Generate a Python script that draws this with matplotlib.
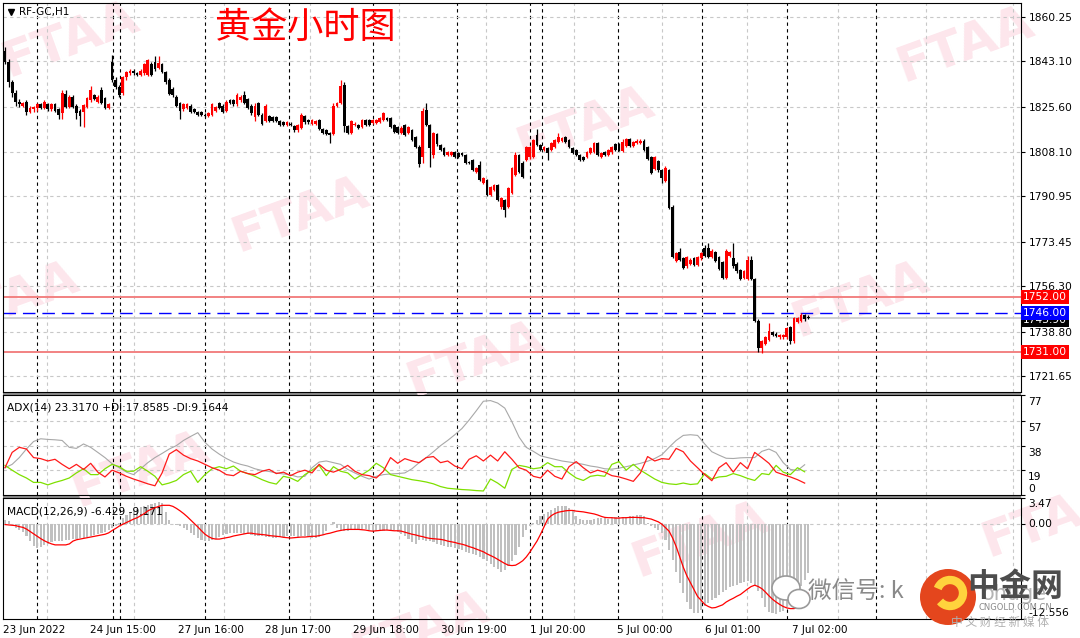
import numpy as np
import matplotlib.pyplot as plt
from matplotlib.patches import Rectangle, Circle, Ellipse, Arc
import matplotlib.transforms as mtransforms

plt.rcParams['font.family'] = ['DejaVu Sans', 'Noto Sans CJK SC']

# --- price data (H1 bars, 23 Jun - 7 Jul 2022) ---
opens = [1847, 1843, 1835, 1831, 1827.5, 1826, 1827.5, 1823.5, 1824.5, 1825, 1826.5, 1825,
         1826.5, 1824.5, 1826.5, 1824.5, 1823, 1830.5, 1825.5, 1829.5, 1826, 1824, 1823.5, 1825.5,
         1828, 1830, 1827.5, 1832, 1829, 1825, 1843, 1836, 1833, 1831, 1837, 1838.5,
         1839.5, 1838.5, 1838, 1838.5, 1838, 1842, 1843, 1840.5, 1842, 1839, 1836, 1832.5,
         1829.5, 1827, 1824.5, 1825, 1826, 1824.5, 1823.5, 1823.5, 1822.5, 1822, 1822.5, 1824,
         1827, 1826, 1824, 1828, 1828, 1826.5, 1828, 1830, 1828.5, 1826, 1821.5, 1827,
         1822.5, 1820, 1822, 1821.5, 1821.5, 1820, 1819.5, 1818.5, 1819, 1818, 1816.5, 1817.5,
         1822, 1820.5, 1819, 1819, 1820.5, 1817, 1816.5, 1815.5, 1815, 1826, 1827, 1834,
         1818, 1815.5, 1818.5, 1818.5, 1817.8, 1820.5, 1820.5, 1819.3, 1819.3, 1819.7, 1820.5, 1821.2,
         1821.2, 1818.5, 1817.8, 1815.4, 1818.5, 1815.4, 1816.6, 1813.9, 1810, 1806, 1824.3, 1818.5,
         1807, 1815, 1810.8, 1809.7, 1807, 1807, 1808.1, 1807.7, 1807.7, 1807, 1804.3, 1805,
         1800.4, 1803.1, 1796.1, 1797.3, 1791.5, 1793.4, 1795.4, 1786.9, 1789.6, 1786.9, 1792.3, 1799.2,
         1807, 1804, 1805, 1806, 1806.2, 1814.7, 1810.8, 1808.9, 1809.7, 1808.9, 1810, 1812,
         1812.5, 1813.9, 1812.7, 1809.7, 1808.9, 1807, 1806, 1806.2, 1807.7, 1808.1, 1811.6, 1806.2,
         1808.1, 1807, 1808, 1811, 1811, 1808.5, 1810.5, 1813, 1810.5, 1811.5, 1811.5, 1812.5,
         1810, 1806, 1801.5, 1804.5, 1801, 1797, 1801, 1787, 1766, 1769.5, 1767, 1764,
         1765, 1767, 1764.5, 1767, 1771, 1771, 1767.5, 1769.5, 1767.5, 1765.5, 1759.5, 1768,
         1767, 1765, 1762.5, 1759.5, 1759, 1766.5, 1759, 1743, 1732.5, 1734, 1735.5, 1738.5,
         1738, 1736.5, 1736.5, 1736.5, 1740.5, 1735, 1742.5, 1743, 1745, 1744]
highs = [1848.5, 1844, 1836, 1832, 1828.5, 1827.5, 1828, 1826, 1826, 1827, 1827, 1828,
         1827, 1827, 1827, 1825, 1832, 1832, 1830, 1830, 1826.5, 1824.5, 1826.5, 1829.5,
         1833.5, 1830.5, 1830, 1833, 1829.5, 1827, 1845.5, 1837, 1834, 1837.5, 1839.5, 1840,
         1840, 1839, 1840, 1842.5, 1844, 1843, 1845, 1845, 1842.5, 1839.5, 1836.5, 1833,
         1830, 1827.5, 1827, 1827, 1826.5, 1825, 1824, 1824, 1823, 1823.5, 1827, 1826,
         1827.5, 1826.5, 1828, 1828.5, 1828.5, 1831, 1830, 1831.5, 1829, 1826.5, 1827, 1827.5,
         1823, 1826.5, 1822.5, 1822, 1822, 1820.5, 1820, 1820, 1819.5, 1818.5, 1819, 1823,
         1822.5, 1821, 1821, 1820.5, 1821, 1817.5, 1817, 1816, 1827, 1827.5, 1836, 1835,
         1818.5, 1820.5, 1819.5, 1819, 1821, 1821, 1821, 1821, 1821, 1821.7, 1823.6, 1821.7,
         1821.7, 1819, 1818.3, 1818, 1819, 1818.3, 1817, 1814.3, 1810.8, 1825, 1827, 1819,
         1816, 1815.6, 1811.3, 1810.2, 1808.6, 1808.6, 1808.6, 1808.2, 1808.2, 1807.5, 1804.8, 1805.5,
         1802.4, 1804.5, 1798.6, 1797.8, 1795.1, 1795.9, 1795.9, 1790.9, 1790.1, 1794.7, 1802.4, 1808,
         1807.5, 1804.5, 1810.5, 1810.5, 1813.2, 1817, 1811.3, 1810.5, 1810.2, 1812.1, 1813.2, 1815.5,
         1814, 1814.4, 1813.2, 1810.2, 1809.4, 1807.5, 1806.5, 1808.6, 1810.2, 1812.1, 1812.1, 1808.2,
         1808.6, 1809.4, 1810.5, 1811.5, 1811.5, 1813, 1813.5, 1813.5, 1812.5, 1813, 1813, 1813,
         1810.5, 1806.5, 1806.5, 1805, 1801.5, 1802.5, 1801.5, 1787.5, 1769.5, 1771, 1767.5, 1768,
         1767, 1767.5, 1768, 1769.5, 1772, 1773, 1770.5, 1770, 1768, 1766, 1770.5, 1770,
         1773, 1765.5, 1763, 1762.5, 1768, 1768, 1759.5, 1743.5, 1735.5, 1737, 1742, 1739,
         1738.5, 1738, 1738, 1740.5, 1741, 1744.5, 1744.5, 1746, 1745.5, 1745]
lows = [1842, 1833, 1829.5, 1826, 1825.5, 1825.5, 1822.5, 1823, 1823.5, 1824, 1824.5, 1824.5,
        1824, 1824, 1823.5, 1821, 1821, 1825, 1825, 1825, 1821, 1818, 1817.8, 1825,
        1827.5, 1828, 1827, 1826.5, 1824.5, 1824.5, 1835, 1832.5, 1829.5, 1830, 1836, 1838,
        1838, 1837.5, 1837.5, 1838, 1837.5, 1837.5, 1839.5, 1840, 1838.5, 1834.5, 1830, 1829.5,
        1825.5, 1821, 1824, 1824.5, 1823, 1823, 1822, 1822, 1821.5, 1821.5, 1822, 1823.5,
        1824.5, 1823, 1823.5, 1826.5, 1826, 1826, 1827.5, 1826.5, 1824.5, 1822.5, 1820, 1822,
        1818.5, 1819.5, 1819.5, 1819.5, 1819.5, 1818, 1818, 1818, 1818, 1816, 1816, 1817,
        1819, 1819, 1818.5, 1818.5, 1816.5, 1815, 1814.5, 1811.5, 1814.5, 1825.5, 1826.5, 1816,
        1815, 1815, 1818, 1817, 1817.3, 1818, 1818, 1819, 1819, 1819.3, 1820, 1820,
        1817.3, 1815.4, 1815, 1815, 1814.2, 1815, 1812.2, 1809.5, 1802.3, 1804, 1818, 1802.3,
        1805.8, 1810.5, 1808.5, 1806.5, 1806.5, 1806.5, 1805.7, 1805.7, 1806.5, 1803.4, 1803.4, 1800.7,
        1800, 1796.8, 1795.6, 1791, 1791, 1792.9, 1789.1, 1786, 1783, 1786.4, 1791.8, 1798.7,
        1800, 1798, 1804.5, 1805.5, 1805.7, 1810.3, 1808.4, 1808.4, 1805, 1808.4, 1809.5, 1811.5,
        1812, 1811.5, 1809.5, 1807.2, 1806.5, 1804.5, 1804.5, 1805.7, 1807.2, 1807.6, 1806.5, 1805.7,
        1806.5, 1806.5, 1807.5, 1808.5, 1808.5, 1808, 1810, 1810, 1810, 1811, 1811, 1808.5,
        1805, 1799.5, 1801, 1800.5, 1796, 1796.5, 1786, 1767, 1765.5, 1766, 1763, 1763.5,
        1764.5, 1764, 1764, 1766.5, 1767.5, 1767, 1767, 1765.5, 1762.5, 1759, 1759, 1767.5,
        1763.5, 1761.5, 1758.5, 1759, 1758.5, 1758.5, 1742.5, 1731, 1730.5, 1733.5, 1735, 1737,
        1736.5, 1736, 1736, 1736, 1734, 1734.5, 1742, 1742.5, 1743, 1743.5]
closes = [1843, 1835, 1831, 1827.5, 1826.5, 1827, 1823.5, 1825, 1825.5, 1826.5, 1825, 1827.5,
          1824.5, 1826.5, 1824, 1822.5, 1831, 1825.5, 1829.5, 1825.5, 1823, 1822, 1826.3, 1829,
          1832, 1828.5, 1829.5, 1827, 1825, 1826.5, 1836, 1833, 1830, 1837, 1839, 1839.5,
          1838.5, 1838, 1839.5, 1842, 1843.5, 1838, 1840, 1842.5, 1839, 1835, 1830.5, 1830,
          1826, 1824, 1826.5, 1826.5, 1823.5, 1823.5, 1822.5, 1822.5, 1822, 1823, 1826.5, 1825.5,
          1825, 1823.5, 1827.5, 1827, 1826.5, 1830, 1829.5, 1827, 1825, 1823, 1826, 1822.5,
          1819, 1826, 1820, 1820, 1820, 1818.5, 1818.5, 1819.5, 1818.5, 1816.5, 1818.5, 1822.5,
          1819.5, 1819.5, 1820.5, 1820, 1817, 1815.5, 1815, 1814.5, 1826, 1827, 1833.5, 1818,
          1815.5, 1820, 1819, 1817.4, 1820.5, 1818.5, 1818.5, 1820.5, 1820.5, 1821.2, 1823.2, 1820.5,
          1817.8, 1815.8, 1815.4, 1817.4, 1814.7, 1817.8, 1812.7, 1810, 1803.5, 1824, 1818.5, 1809.7,
          1815.4, 1811, 1808.9, 1807, 1808.1, 1808.1, 1806.2, 1806.2, 1807, 1803.9, 1803.9, 1801.2,
          1801.9, 1797.3, 1798.1, 1791.5, 1794.6, 1795.4, 1789.6, 1790.4, 1785.7, 1794.2, 1801.9, 1807,
          1800.4, 1798.5, 1810, 1810, 1812.7, 1810.8, 1808.9, 1810, 1807.7, 1811.6, 1812.7, 1813.9,
          1813.5, 1812, 1810, 1807.7, 1807, 1805, 1805, 1808.1, 1809.7, 1811.6, 1807, 1807.7,
          1807, 1808.9, 1810, 1809, 1809, 1812, 1813, 1810.5, 1812, 1812.5, 1812.5, 1809,
          1805.5, 1800, 1806, 1801, 1798, 1802, 1786.5, 1767.5, 1769, 1766.5, 1763.5, 1767.5,
          1766.5, 1764.5, 1767.5, 1769, 1768, 1767.5, 1770, 1766, 1763, 1759.5, 1770, 1769.5,
          1764, 1762, 1759, 1762, 1766.5, 1759, 1743, 1732.5, 1735, 1736.5, 1739, 1737.5,
          1737, 1737.5, 1737.5, 1740, 1735, 1744, 1744, 1745, 1743.5, 1743.9]

# --- ADX(14), one value every 2 bars ---
adx_step = 2
adx_line = [21.0, 23.6, 28.8, 35.4, 41.2, 43.3, 42.8, 42.5, 42.0, 36.7, 35.9, 39.3, 36.7, 32.8, 28.8,
            24.1, 21.0, 17.6, 15.7, 20.2, 24.9, 28.8, 32.0, 35.4, 38.0, 42.0, 45.1, 48.0, 40.6, 35.4,
            31.5, 28.1, 25.4, 23.6, 22.3, 20.2, 18.9, 18.1, 17.0, 16.2, 15.5, 13.9, 14.4, 21.0, 25.4,
            26.2, 24.9, 23.6, 19.7, 17.0, 14.4, 12.3, 14.4, 15.7, 16.2, 16.5, 17.0, 20.2, 24.9, 28.8,
            33.3, 38.0, 42.0, 46.4, 51.2, 57.7, 64.8, 72.2, 72.7, 70.8, 66.9, 56.4, 44.6, 36.7, 33.6,
            30.2, 28.8, 27.5, 26.2, 25.4, 24.6, 23.6, 22.3, 21.5, 20.2, 19.9, 20.7, 21.8, 23.1, 24.4,
            26.0, 28.1, 31.0, 36.7, 42.0, 45.9, 46.4, 45.9, 39.3, 33.3, 30.7, 28.3, 28.1, 28.6, 28.8,
            28.8, 33.6, 35.4, 32.8, 24.9, 19.7, 18.9, 23.3]
di_minus = [21.0, 32.8, 36.7, 35.4, 28.8, 28.0, 26.2, 27.5, 23.6, 20.2, 23.6, 19.7, 24.4, 17.6, 13.9,
            19.1, 17.0, 14.4, 12.3, 10.5, 8.6, 7.1, 17.0, 31.5, 34.9, 30.7, 28.0, 26.2, 23.6, 21.0,
            19.1, 15.7, 14.9, 18.3, 16.5, 15.7, 18.3, 19.7, 16.5, 17.6, 14.9, 17.6, 19.1, 17.0, 23.6,
            19.1, 17.6, 19.7, 22.8, 18.3, 15.7, 14.9, 13.1, 18.3, 28.8, 24.4, 28.0, 26.2, 24.9, 28.8,
            29.6, 24.9, 26.2, 22.3, 20.2, 27.5, 30.2, 26.2, 30.7, 26.2, 33.3, 27.5, 21.0, 19.1, 14.4,
            13.1, 19.1, 14.4, 12.3, 21.8, 25.7, 21.0, 17.0, 19.1, 17.6, 14.9, 13.9, 12.3, 10.5, 17.0,
            29.6, 26.2, 28.0, 27.5, 35.9, 33.3, 26.2, 21.0, 15.7, 11.0, 21.0, 24.9, 17.6, 24.9, 20.2,
            32.8, 28.8, 24.4, 17.6, 15.7, 13.9, 11.8, 9.16]
di_plus = [22.8, 19.1, 15.7, 13.1, 9.7, 9.7, 7.8, 9.7, 11.2, 13.1, 17.0, 20.2, 15.7, 15.7, 20.2,
           23.6, 21.8, 18.3, 18.3, 21.8, 18.3, 14.4, 7.8, 9.2, 11.2, 15.7, 18.3, 9.7, 15.7, 20.2,
           21.8, 20.2, 22.3, 18.3, 16.5, 14.4, 11.8, 9.7, 8.4, 14.4, 13.1, 10.5, 15.7, 19.1, 22.8,
           14.9, 21.8, 18.3, 17.0, 12.3, 15.7, 19.1, 24.4, 21.0, 15.7, 14.4, 13.1, 11.8, 11.0, 10.0,
           8.6, 6.5, 5.2, 4.7, 4.2, 3.9, 3.4, 3.1, 12.3, 9.2, 5.2, 19.7, 22.8, 21.8, 20.2,
           21.0, 24.9, 21.8, 21.8, 17.0, 13.1, 11.2, 14.4, 15.2, 14.4, 23.6, 25.7, 19.1, 23.6, 19.1,
           15.7, 12.3, 9.7, 8.6, 8.1, 9.2, 8.1, 8.6, 16.5, 12.3, 13.9, 14.4, 16.5, 14.9, 12.8,
           11.2, 16.5, 15.7, 22.8, 17.6, 15.7, 21.0, 17.86]

# --- MACD(12,26,9): main (histogram) and signal, one value per bar ---
macd_main = [0.58, 0.36, 0.08, -0.46, -0.78, -1.06, -1.6, -2.29, -2.88, -3.15, -3.0, -2.8, -2.56, -2.42,
             -2.29, -2.24, -2.2, -2.1, -2.06, -2.0, -1.92, -1.88, -1.83, -1.7, -1.6, -1.47, -1.33, -1.15,
             -1.0, -0.83, -0.55, -0.24, 0.22, 0.77, 1.22, 1.5, 1.77, 2.0, 2.23, 2.45, 2.59, 2.73,
             2.86, 2.96, 2.86, 1.68, 0.49, 0.0, -0.14, -0.28, -0.51, -0.74, -1.15, -1.47, -1.83, -2.1,
             -2.24, -2.24, -2.1, -1.92, -1.7, -1.47, -1.28, -1.19, -1.15, -1.15, -1.15, -1.24, -1.33, -1.42,
             -1.51, -1.56, -1.6, -1.65, -1.74, -1.79, -1.83, -1.74, -1.65, -1.6, -1.6, -1.6, -1.65, -1.6,
             -1.6, -1.7, -1.79, -1.83, -1.7, -1.47, -0.92, 0.0, 0.31, -0.46, -0.78, -0.92, -0.87, -0.78,
             -0.69, -0.69, -0.69, -0.69, -0.83, -0.92, -0.92, -0.92, -0.92, -0.83, -0.74, -0.74, -0.97, -1.24,
             -1.6, -1.92, -2.42, -2.61, -2.15, -2.1, -2.2, -2.29, -2.38, -2.56, -2.7, -2.84, -2.97, -3.06,
             -3.2, -3.29, -3.43, -3.66, -3.88, -3.97, -4.11, -4.34, -4.57, -4.93, -5.3, -5.62, -5.98, -6.3,
             -6.07, -5.52, -4.93, -4.02, -2.97, -1.7, -0.83, -0.24, 0.22, 0.54, 1.13, 1.36, 1.63, 1.86,
             2.09, 2.36, 2.45, 2.36, 2.13, 1.82, 1.13, 0.63, 0.49, 0.49, 0.58, 0.68, 0.77, 0.86,
             0.81, 0.68, 0.77, 0.9, 0.9, 0.9, 1.0, 1.04, 1.13, 1.22, 1.18, 1.09, 0.13, -0.24,
             -0.51, -0.74, -1.15, -2.06, -3.43, -4.8, -6.39, -7.76, -9.13, -10.27, -11.27, -11.77, -11.73, -11.32,
             -10.82, -10.4, -10.08, -9.72, -9.4, -9.04, -8.67, -8.35, -8.22, -7.99, -7.76, -7.62, -7.53, -7.76,
             -8.08, -8.9, -9.81, -10.95, -11.64, -11.82, -11.86, -11.68, -11.5, -10.95, -10.27, -9.63, -8.9, -8.22,
             -7.44, -6.429]
macd_signal = [-0.05, -0.1, -0.14, -0.19, -0.33, -0.42, -0.65, -0.97, -1.28, -1.6, -1.92, -2.2, -2.42, -2.61,
               -2.74, -2.74, -2.74, -2.74, -2.61, -2.24, -2.06, -1.97, -1.88, -1.79, -1.7, -1.6, -1.51, -1.42,
               -1.33, -1.15, -0.83, -0.55, -0.24, 0.0, 0.22, 0.45, 0.68, 0.86, 1.13, 1.41, 1.77, 2.0,
               2.18, 2.36, 2.5, 2.5, 2.5, 2.36, 2.09, 1.77, 1.41, 1.0, 0.54, 0.08, -0.37, -0.87,
               -1.33, -1.65, -1.88, -1.97, -1.97, -1.88, -1.79, -1.7, -1.56, -1.47, -1.37, -1.28, -1.19, -1.19,
               -1.28, -1.33, -1.37, -1.42, -1.51, -1.56, -1.6, -1.65, -1.74, -1.79, -1.83, -1.79, -1.74, -1.7,
               -1.7, -1.65, -1.6, -1.6, -1.51, -1.42, -1.28, -1.19, -1.06, -0.92, -0.83, -0.74, -0.69, -0.69,
               -0.69, -0.69, -0.74, -0.78, -0.87, -0.92, -0.87, -0.83, -0.78, -0.78, -0.83, -0.87, -0.87, -0.92,
               -1.06, -1.19, -1.33, -1.42, -1.56, -1.65, -1.79, -1.88, -1.92, -1.97, -2.01, -2.1, -2.24, -2.33,
               -2.42, -2.56, -2.65, -2.79, -2.97, -3.11, -3.29, -3.47, -3.66, -3.93, -4.16, -4.38, -4.66, -4.93,
               -5.21, -5.43, -5.48, -5.43, -5.16, -4.84, -4.34, -3.7, -2.97, -2.24, -1.33, -0.33, 0.68, 1.13,
               1.41, 1.59, 1.68, 1.77, 1.82, 1.82, 1.73, 1.68, 1.63, 1.54, 1.45, 1.36, 1.22, 1.04,
               0.9, 0.86, 0.86, 0.81, 0.81, 0.86, 0.86, 0.9, 0.9, 0.9, 0.86, 0.86, 0.77, 0.68,
               0.49, 0.31, 0.0, -0.46, -0.92, -1.83, -2.97, -4.34, -5.71, -6.85, -7.76, -8.67, -9.58, -10.08,
               -10.63, -10.9, -11.09, -11.04, -10.86, -10.68, -10.31, -10.04, -9.81, -9.54, -9.31, -8.95, -8.58, -8.26,
               -8.08, -8.26, -8.54, -8.99, -9.49, -9.95, -10.31, -10.63, -10.9, -11.09, -11.18, -11.18, -11.04, -10.72,
               -10.17, -9.171]

# --- axes furniture ---
price_ticks = [1860.25, 1843.10, 1825.60, 1808.10, 1790.95, 1773.45, 1756.30, 1738.80, 1721.65]
price_range = (1715.45, 1865.6)
adx_labels = [77, 57, 38, 19]
adx_grid = [57, 38, 19]
macd_range = (-12.556, 3.47)
time_labels = ['23 Jun 2022', '24 Jun 15:00', '27 Jun 16:00', '28 Jun 17:00', '29 Jun 18:00',
               '30 Jun 19:00', '1 Jul 20:00', '5 Jul 00:00', '6 Jul 01:00', '7 Jul 02:00']
time_label_pos = [-0.6, 23.8, 48.5, 72.8, 97.5, 122.1, 147.1, 171.4, 196.1, 220.4]
grid_pos = [11.8, 36.1, 61.3, 85.4, 110.4, 134.7, 159.4, 184.0, 207.8, 233.3, 258.0, 282.4]
day_sep_pos = [9.0, 30.3, 32.2, 56.0, 79.6, 103.1, 126.6, 147.1, 150.4, 171.7, 195.2, 219.0, 244.0]
level_lines = {'r1': 1752.0, 'pivot': 1746.0, 's1': 1731.0}
last_price = 1743.90
x_range = (-0.56, 284.6)

W, H = 1080, 638
fig = plt.figure(figsize=(W / 100, H / 100), dpi=100)
fig.patch.set_facecolor('white')

bg = fig.add_axes([0, 0, 1, 1], zorder=-5)
bg.set_xlim(0, W); bg.set_ylim(H, 0); bg.axis('off')

def panel(top, bottom):
    a = fig.add_axes([3 / W, 1 - bottom / H, 1018 / W, (bottom - top) / H])
    a.set_facecolor('none')
    a.set_xlim(*x_range)
    for s in a.spines.values():
        s.set_color('black'); s.set_linewidth(0.8)
    a.tick_params(axis='x', which='both', bottom=False, labelbottom=False)
    a.yaxis.tick_right()
    a.tick_params(axis='y', length=3, width=0.8, pad=3, labelsize=7.7, colors='black')
    return a

ax = panel(3, 392)
ax_adx = panel(395, 495)
ax_macd = panel(498, 619)

# panel separators
bg.add_patch(Rectangle((3, 392), 1018, 3, color='#8c8c8c', lw=0))
bg.add_patch(Rectangle((3, 495), 1018, 3, color='#8c8c8c', lw=0))

# watermarks (FTAA)
for cx, cy in [(70, 40), (300, 215), (585, 125), (965, 45), (860, 300), (475, 360),
               (10, 300), (140, 470), (700, 540), (1050, 520), (420, 630)]:
    bg.text(cx, cy, 'FTAA', fontsize=36, fontweight='bold', color='#fde6ec',
            rotation=20, ha='center', va='center', clip_on=True)

grid_kw = dict(color='#c8c8c8', lw=0.8, dashes=(3, 3), zorder=1)
sep_kw = dict(color='black', lw=0.8, dashes=(3, 3), zorder=1)

for a in (ax, ax_adx, ax_macd):
    for g in grid_pos:
        a.axvline(g, **grid_kw)
    for d in day_sep_pos:
        a.axvline(d, **sep_kw)

# --- main price panel ---
x = np.arange(len(closes))
o = np.array(opens); c = np.array(closes); hi = np.array(highs); lo = np.array(lows)
up = c >= o
col = np.where(up, '#ff0000', '#000000')
ax.set_ylim(*price_range)
ax.set_yticks(price_ticks)
ax.set_yticklabels([f'{v:.2f}' for v in price_ticks])
for v in price_ticks:
    ax.axhline(v, **grid_kw)
ax.vlines(x, lo, hi, colors=col, lw=0.9, zorder=3)
body = np.maximum(np.abs(c - o), 0.4)
ax.bar(x, body, bottom=np.minimum(o, c), width=0.78, color=col, lw=0, zorder=4)

ax.axhline(level_lines['r1'], color='#f28282', lw=1.4, zorder=2)
ax.axhline(level_lines['s1'], color='#f28282', lw=1.4, zorder=2)
ax.axhline(last_price, color='#c8c8c8', lw=1.2, zorder=2)
ax.axhline(level_lines['pivot'], color='#0000ff', lw=1.0, dashes=(9, 5), zorder=2)

ytr = mtransforms.blended_transform_factory(ax.transAxes, ax.transData)
def tag(val, fc, dy=0.0):
    ax.text(1.0 + 2 / 1018, val + dy, f'{val:.2f}', transform=ytr, fontsize=7.7, color='white',
            ha='left', va='center', zorder=6, clip_on=False,
            bbox=dict(boxstyle='square,pad=0.18', fc=fc, ec='none'))
tag(last_price, 'black', dy=-0.6)
tag(level_lines['r1'], '#ff0000')
tag(level_lines['pivot'], '#0000ff')
tag(level_lines['s1'], '#ff0000')

# --- ADX panel ---
xa = np.arange(0, len(closes), adx_step)[:len(adx_line)]
ax_adx.set_ylim(0, 77)
for v in adx_grid:
    ax_adx.axhline(v, **grid_kw)
ax_adx.plot(xa, adx_line, color='#a8a8a8', lw=0.8, zorder=3)
ax_adx.plot(xa, di_plus, color='#7ee000', lw=0.9, zorder=3)
ax_adx.plot(xa, di_minus, color='#ff1a1a', lw=0.9, zorder=3)
ax_adx.set_yticks(adx_labels + [0])
ax_adx.set_yticklabels([])
atr = mtransforms.blended_transform_factory(ax_adx.transAxes, ax_adx.transData)
for v in adx_labels:
    ax_adx.text(1.0 + 7 / 1018, v - 1.5, str(v), transform=atr, fontsize=7.7, va='top', ha='left', clip_on=False)
ax_adx.text(1.0 + 7 / 1018, 0.5, '0', transform=atr, fontsize=7.7, va='bottom', ha='left', clip_on=False)
ax_adx.text(4 / 1018, 0.93, 'ADX(14) 23.3170 +DI:17.8585 -DI:9.1644', transform=ax_adx.transAxes,
            fontsize=7.7, va='top', ha='left')

# --- MACD panel ---
ax_macd.set_ylim(*macd_range)
ax_macd.axhline(0, **grid_kw)
ax_macd.bar(x, macd_main, width=0.6, color='#c0c0c0', lw=0, zorder=3)
ax_macd.plot(x, macd_signal, color='#ff0000', lw=0.9, zorder=4)
ax_macd.set_yticks([3.47, 0.0, -12.556])
ax_macd.set_yticklabels([])
mtr = mtransforms.blended_transform_factory(ax_macd.transAxes, ax_macd.transData)
ax_macd.text(1.0 + 7 / 1018, 3.35, '3.47', transform=mtr, fontsize=7.7, va='top', ha='left', clip_on=False)
ax_macd.text(1.0 + 7 / 1018, 0.0, '0.00', transform=mtr, fontsize=7.7, va='center', ha='left', clip_on=False)
ax_macd.text(1.0 + 7 / 1018, -12.4, '-12.556', transform=mtr, fontsize=7.7, va='bottom', ha='left', clip_on=False)
ax_macd.text(4 / 1018, 0.93, 'MACD(12,26,9) -6.429 -9.171', transform=ax_macd.transAxes,
             fontsize=7.7, va='top', ha='left')
ax_macd.tick_params(axis='x', bottom=True, labelbottom=True, length=0, pad=4, labelsize=7.5)
ax_macd.set_xticks(time_label_pos)
ax_macd.set_xticklabels(time_labels, ha='left')

# --- header texts ---
bg.plot([11], [12], marker='v', color='black', ms=4)
bg.text(19, 12, 'RF-GC,H1', fontsize=7.5, va='center', ha='left')
fig.text(215 / W, 1 - 28 / H, '黄金小时图', fontsize=26, color='#ff0000', fontweight='light',
         family=['Noto Sans CJK SC'], va='center', ha='left')

# --- bottom-right logo overlay ---
top = fig.add_axes([0, 0, 1, 1], zorder=10)
top.set_xlim(0, W); top.set_ylim(H, 0); top.axis('off')
top.add_patch(Ellipse((786, 588), 28, 24, fc='white', ec='#9a9a9a', lw=1.2))
top.add_patch(Ellipse((799, 599), 22, 19, fc='white', ec='#9a9a9a', lw=1.2))
top.text(808, 591, '微信号: k', fontsize=17, color='#8a8a8a', va='center', ha='left',
         family=['Noto Sans CJK SC', 'DejaVu Sans'])
top.text(982, 594, 'ohuge', fontsize=15, color='#a0a0a0', va='center', ha='left', alpha=0.8)
top.add_patch(Circle((948, 597), 28, fc='#e4461d', ec='none'))
top.add_patch(Arc((950, 593), 26, 26, theta1=200, theta2=500, color='#ffd33d', lw=6))
top.text(1015, 587, '中金网', fontsize=23, color='#4d4d4d', fontweight='bold', va='center', ha='center',
         family=['Noto Sans CJK SC'])
top.text(1015, 607, 'CNGOLD.COM.CN', fontsize=6, color='#8a8a8a', va='center', ha='center')
top.text(1000, 622, '中 文 财 经 新 媒 体', fontsize=8.5, color='#b0b0b0', va='center', ha='center',
         family=['Noto Sans CJK SC'])

fig.savefig('out.png', dpi=100, facecolor='white')
